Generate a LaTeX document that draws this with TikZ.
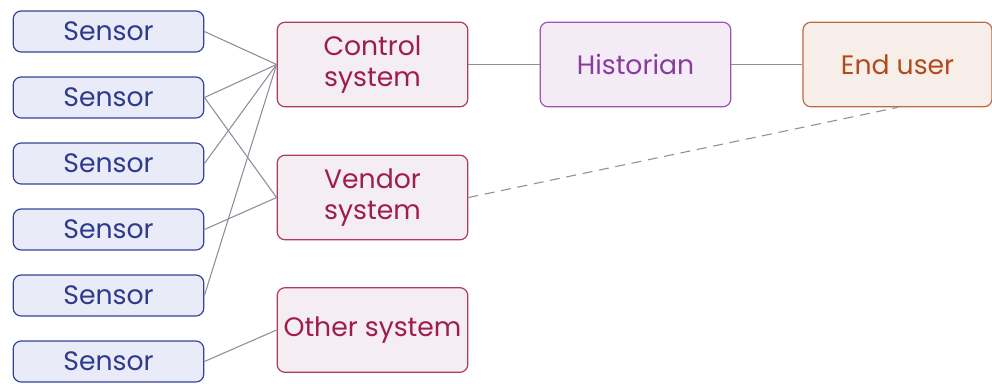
\documentclass[tikz,border=0pt]{standalone}
\usepackage{fontspec}
\setmainfont{Poppins}
\usetikzlibrary{positioning}
\definecolor{sensorfill}{HTML}{E9ECF8}
\definecolor{sensorline}{HTML}{34439A}
\definecolor{sensortext}{HTML}{2D3A8E}
\definecolor{sysfill}{HTML}{F4EDF1}
\definecolor{sysline}{HTML}{B03A60}
\definecolor{systext}{HTML}{9E1D4A}
\definecolor{histfill}{HTML}{F3ECF6}
\definecolor{histline}{HTML}{9C55B2}
\definecolor{histtext}{HTML}{8A3C9E}
\definecolor{userfill}{HTML}{F8EEE9}
\definecolor{userline}{HTML}{BD6A42}
\definecolor{usertext}{HTML}{B04C19}
\definecolor{linkgray}{HTML}{8C8F9B}
\begin{document}
\begin{tikzpicture}[x=.75pt, y=-.75pt, font=\fontsize{20}{23}\selectfont,
  box/.style={draw, rounded corners=6pt, line width=.9pt, minimum width=143pt, align=center, inner sep=0pt},
  sensor/.style={box, draw=sensorline, fill=sensorfill, text=sensortext, minimum height=30.75pt},
  system/.style={box, draw=sysline, fill=sysfill, text=systext, minimum height=63.5pt},
  link/.style={draw=linkgray, line width=.8pt}]
\useasboundingbox (0,0) rectangle (992,383);
% sensors
\node[sensor] (s1) at (108.5, 31.5) {Sensor};
\node[sensor] (s2) at (108.5, 97.5) {Sensor};
\node[sensor] (s3) at (108.5, 163.5) {Sensor};
\node[sensor] (s4) at (108.5, 229.5) {Sensor};
\node[sensor] (s5) at (108.5, 295.5) {Sensor};
\node[sensor] (s6) at (108.5, 361.5) {Sensor};
% systems
\node[system] (ctrl) at (372.5, 64.5) {Control\\system};
\node[system] (vendor) at (372.5, 197.5) {Vendor\\system};
\node[system] (other) at (372.5, 330) {Other system};
\node[system, draw=histline, fill=histfill, text=histtext] (hist) at (635.5, 64.5) {Historian};
\node[system, draw=userline, fill=userfill, text=usertext, minimum width=141.75pt] (user) at (897.5, 64.5) {End user};
%
\foreach \s in {s1, s2, s3, s5}
  \draw[link] (\s.east) -- (ctrl.west);
\foreach \s in {s2, s4}
  \draw[link] (\s.east) -- (vendor.west);
\draw[link] (s6.east) -- (other.west);
\draw[link] (ctrl) -- (hist);
\draw[link] (hist) -- (user);
\draw[link, dash pattern=on 7.5pt off 5pt] (vendor.east) -- (user.south);
\end{tikzpicture}
\end{document}
